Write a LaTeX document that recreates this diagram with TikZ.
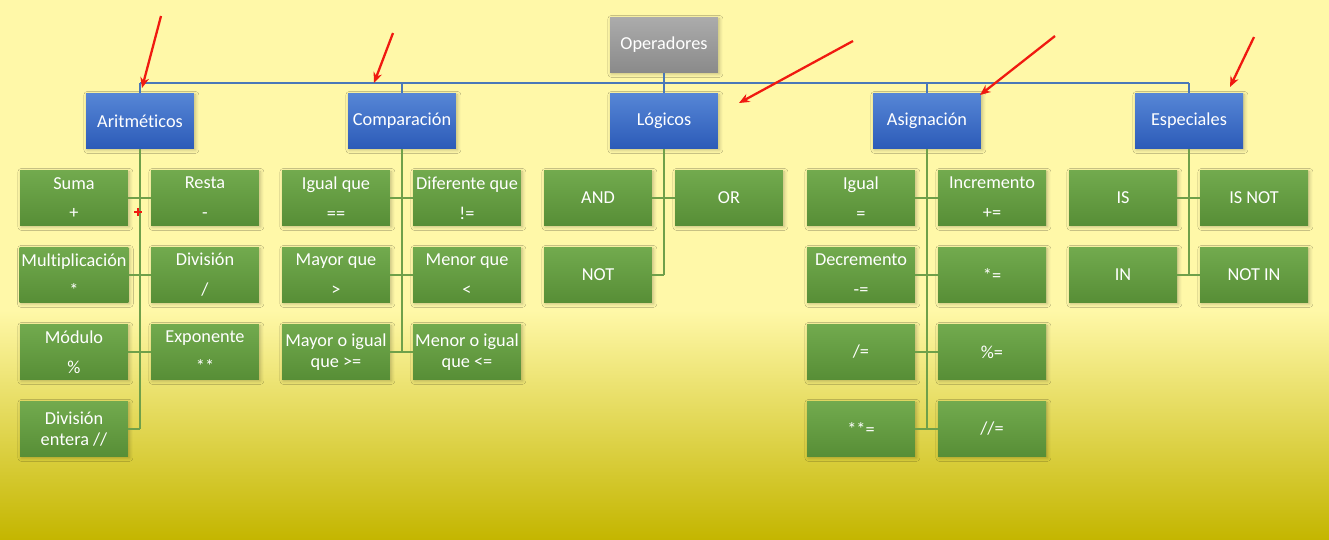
\documentclass[tikz,border=0pt]{standalone}
\usepackage{fontspec}
\setmainfont{Carlito}[Ligatures={NoCommon}]
\usetikzlibrary{arrows.meta,shadows.blur}

\definecolor{fondo}{HTML}{FFF8A8}
\definecolor{fondomed}{HTML}{E8E070}
\definecolor{olivo}{HTML}{C4B600}
\definecolor{azularr}{HTML}{5686D6}
\definecolor{azulab}{HTML}{2C5BB8}
\definecolor{verdearr}{HTML}{72AA4E}
\definecolor{verdeab}{HTML}{578E36}
\definecolor{grisarr}{HTML}{ABABAB}
\definecolor{grisab}{HTML}{8A8A8A}
\definecolor{lineaverde}{HTML}{6FA04A}
\definecolor{lineaazul}{HTML}{4A78B8}
\definecolor{rojo}{HTML}{F01A10}

\tikzset{
  caja/.style={minimum width=2.16cm, minimum height=1.1cm, inner sep=1pt,
    align=center, text=white, font=\fontsize{10.4}{12}\selectfont,
    blur shadow={shadow xshift=0.8pt, shadow yshift=-0.8pt, shadow blur radius=2pt, shadow opacity=25}},
  raiz/.style={caja, top color=grisarr, bottom color=grisab},
  grupo/.style={caja, top color=azularr, bottom color=azulab},
  elem/.style={caja, top color=verdearr, bottom color=verdeab},
  linea/.style={draw=lineaverde, line width=0.9pt},
  bus/.style={draw=lineaazul, line width=0.9pt},
  flecha/.style={draw=rojo, line width=1.3pt, -{Stealth[length=6pt, width=5pt]}}
}

\begin{document}
\begin{tikzpicture}[x=0.02cm, y=-0.02cm]
  \useasboundingbox (0,0) rectangle (1329,539);
  % Background
  \fill[fondo] (0,0) rectangle (1329,311);
  \shade[top color=fondo, middle color=fondomed, bottom color=olivo] (0,310) rectangle (1329,539);

  % Nodes
  \node[raiz] (oper) at (664,45) {Operadores};
  \foreach \n/\x/\t in {arit/140/Aritméticos, comp/402/Comparación, logi/664/Lógicos, asig/927/Asignación, espe/1189/Especiales}{
    \node[grupo] (\n) at (\x,121) {\t};
  }
  \foreach \n/\x/\y/\t in {
    a1/74/198/{Suma\\[5pt]+}, a2/205/198/{Resta\\[5pt]-},
    a3/74/275/{Multiplicación\\[5pt]*}, a4/205/275/{División\\[5pt]/},
    a5/74/352/{Módulo\\[5pt]\%}, a6/205/352/{Exponente\\[5pt]**},
    a7/74/429/{División\\entera //},
    c1/336/198/{Igual que\\[5pt]==}, c2/467/198/{Diferente que\\[5pt]!=},
    c3/336/275/{Mayor que\\[5pt]>}, c4/467/275/{Menor que\\[5pt]<},
    c5/336/352/{Mayor o igual\\que >=}, c6/467/352/{Menor o igual\\que <=},
    l1/598/198/AND, l2/729/198/OR, l3/598/275/NOT,
    s1/861/198/{Igual\\[5pt]=}, s2/992/198/{Incremento\\[5pt]+=},
    s3/861/275/{Decremento\\[5pt]-=}, s4/992/275/*=,
    s5/861/352/{/=}, s6/992/352/\%=,
    s7/861/429/**=, s8/992/429/{//=},
    e1/1123/198/IS, e2/1254/198/IS NOT,
    e3/1123/275/IN, e4/1254/275/NOT IN}{
    \node[elem] (\n) at (\x,\y) {\t};
  }

  % Edges
  \coordinate (barra) at (0,83);
  \draw[bus] (oper) -- (oper |- barra);
  \draw[bus] (arit |- barra) -- (espe |- barra);
  \foreach \c in {arit,comp,logi,asig,espe}{
    \draw[bus] (\c) -- (\c |- barra);
  }
  \foreach \c/\e in {arit/a7, comp/c6, logi/l3, asig/s8, espe/e4}{
    \draw[linea] (\c.south) -- (\c.south |- \e);
  }
  \foreach \l/\r in {a1/a2, a3/a4, a5/a6, c1/c2, c3/c4, c5/c6, l1/l2,
    s1/s2, s3/s4, s5/s6, s7/s8, e1/e2, e3/e4}{
    \draw[linea] (\l) -- (\r);
  }
  \foreach \l/\c in {a7/arit, l3/logi}{
    \draw[linea] (\l) -- (\l -| \c);
  }

  % Red marks
  \foreach \i/\xa/\ya/\xb/\yb in {1/161/16/142/88, 2/393/33/374/83, 3/853/41/739/103,
    4/1055/36/980/95, 5/1254/37/1230/87}{
    \coordinate (f\i a) at (\xa,\ya);
    \coordinate (f\i b) at (\xb,\yb);
    \draw[flecha] (f\i a) -- (f\i b);
  }
  \draw[rojo, line width=0.8pt] (134,212) -- (142,212) (138,208) -- (138,216);
\end{tikzpicture}
\end{document}
